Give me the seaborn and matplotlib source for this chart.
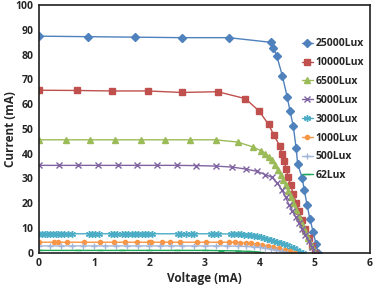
import matplotlib
matplotlib.use("Agg")
import matplotlib.pyplot as plt
import seaborn as sns

# I-V curves
v_25000 = [0, 0.88, 1.73, 2.59, 3.44, 4.21, 4.25, 4.31, 4.41, 4.50, 4.55, 4.61, 4.66,
           4.69, 4.77, 4.81, 4.86, 4.91, 4.97, 5.02, 5.06]
i_25000 = [87.4, 87.2, 87.0, 86.8, 86.8, 84.9, 82.6, 79.4, 71.5, 62.8, 57.2, 51.0, 42.3,
           35.7, 30.3, 25.2, 19.2, 13.8, 8.4, 3.7, 0.0]

v_10000 = [0, 0.68, 1.32, 1.97, 2.59, 3.24, 3.74, 3.99, 4.16, 4.26, 4.36, 4.40, 4.44,
           4.48, 4.52, 4.56, 4.61, 4.66, 4.71, 4.77, 4.83, 4.89, 4.95, 5.01]
i_10000 = [65.6, 65.5, 65.3, 65.3, 64.7, 65.0, 62.2, 57.2, 51.8, 47.4, 43.3, 40.0, 37.0,
           33.9, 30.6, 27.2, 23.8, 20.3, 16.8, 13.2, 9.6, 6.2, 2.9, 0.0]

v_6500 = [0, 0.48, 0.92, 1.38, 1.85, 2.29, 2.74, 3.20, 3.60, 3.88, 4.02, 4.10, 4.17,
          4.22, 4.28, 4.34, 4.38, 4.42, 4.47, 4.51, 4.56, 4.61, 4.66, 4.71, 4.76, 4.82,
          4.88, 4.94, 5.01]
i_6500 = [45.6, 45.6, 45.6, 45.6, 45.6, 45.6, 45.6, 45.6, 44.7, 42.7, 41.2, 40.0, 38.5,
          37.6, 35.3, 33.3, 31.3, 29.3, 27.2, 25.0, 22.6, 20.0, 17.3, 14.5, 11.6, 8.7,
          5.8, 2.9, 0.0]

v_5000 = [0, 0.36, 0.71, 1.07, 1.43, 1.78, 2.14, 2.50, 2.85, 3.21, 3.50, 3.75, 3.95,
          4.10, 4.22, 4.32, 4.40, 4.47, 4.53, 4.59, 4.65, 4.71, 4.77, 4.83, 4.89, 4.95, 5.00]
i_5000 = [35.3, 35.3, 35.3, 35.3, 35.3, 35.3, 35.3, 35.3, 35.2, 35.0, 34.6, 33.8, 32.9,
          31.6, 30.5, 28.2, 25.5, 22.4, 19.5, 17.0, 14.6, 12.2, 9.7, 7.2, 4.7, 2.2, 0.0]

v_3000 = [0.00, 0.05, 0.10, 0.15, 0.20, 0.25, 0.30, 0.35, 0.40, 0.45, 0.52, 0.60, 0.90,
          0.96, 1.02, 1.08, 1.30, 1.36, 1.42, 1.50, 1.56, 1.62, 1.68, 1.74, 1.80, 1.86,
          1.92, 1.98, 2.05, 2.52, 2.58, 2.66, 2.75, 2.81, 3.12, 3.18, 3.24, 3.48, 3.54,
          3.60, 3.66, 3.72, 3.78, 3.84, 3.90, 3.96, 4.02, 4.08, 4.14, 4.20, 4.26, 4.32,
          4.38, 4.44, 4.50, 4.56, 4.62, 4.68, 4.74, 4.78]
i_3000 = [7.7] * 37 + [7.6, 7.6, 7.5, 7.5, 7.4, 7.3, 7.1, 6.9, 6.7, 6.4, 6.1, 5.7, 5.3,
                       4.9, 4.5, 4.0, 3.5, 3.0, 2.4, 1.8, 1.1, 0.5, 0.0]

v_1000 = [0.00, 0.27, 0.34, 0.51, 0.81, 1.11, 1.35, 1.55, 1.78, 1.99, 2.02, 2.23, 2.38,
          2.56, 2.86, 3.02, 3.28, 3.45, 3.55, 3.65, 3.75, 3.85, 3.95, 4.05, 4.15, 4.25,
          4.35, 4.45, 4.55, 4.64]
i_1000 = [4.3] * 18 + [4.2, 4.1, 4.0, 3.8, 3.5, 3.2, 2.8, 2.3, 1.8, 1.2, 0.6, 0.0]

v_500 = [0.00, 0.20, 0.40, 0.60, 0.80, 1.00, 1.20, 1.40, 1.60, 1.80, 2.00, 2.20, 2.40,
         2.60, 2.80, 3.00, 3.20, 3.40, 3.60, 3.75, 3.90, 4.00, 4.10, 4.20, 4.30, 4.40, 4.50]
i_500 = [2.8] * 18 + [2.7, 2.6, 2.4, 2.2, 1.9, 1.5, 1.1, 0.6, 0.0]

v_62 = [0.00, 0.70, 1.10, 1.50, 2.00, 2.50, 3.00, 3.30, 3.60, 3.80, 3.95, 4.02]
i_62 = [1.0, 1.0, 1.0, 1.0, 1.0, 1.0, 1.0, 0.9, 0.8, 0.6, 0.4, 0.2]

series = [
    ("25000Lux", v_25000, i_25000, "D", "#4F81BD", 4.2),
    ("10000Lux", v_10000, i_10000, "s", "#C0504D", 4.5),
    ("6500Lux", v_6500, i_6500, "^", "#9BBB59", 5.0),
    ("5000Lux", v_5000, i_5000, "x", "#8064A2", 4.0),
    ("3000Lux", v_3000, i_3000, (6, 2, 0), "#4BACC6", 5.0),
    ("1000Lux", v_1000, i_1000, "o", "#F79646", 3.0),
    ("500Lux", v_500, i_500, "+", "#A3B5D9", 5.0),
    ("62Lux", v_62, i_62, "_", "#1FA85A", 5.0),
]

sns.set_style("white")
plt.rcParams['font.family'] = ['Open Sans', 'DejaVu Sans']

fig = plt.figure(figsize=(3.76, 2.90), dpi=100)
ax = fig.add_axes([0.104, 0.128, 0.880, 0.855])

for name, v, i, mk, col, ms in series:
    sns.lineplot(x=v, y=i, ax=ax, sort=False, color=col, marker=mk, markersize=ms,
                 markeredgecolor=col, markeredgewidth=1.0, linewidth=1.0, label=name)

ax.set_xlim(0, 6)
ax.set_ylim(0, 100)
ax.set_xticks(range(0, 7))
ax.set_yticks(range(0, 101, 10))
ax.tick_params(axis='both', labelsize=7.5, direction='out', length=2, width=1, pad=2)
for lab in ax.get_xticklabels() + ax.get_yticklabels():
    lab.set_fontweight('bold')
ax.set_xlabel('Voltage (mA)', fontsize=8.5, fontweight='bold', labelpad=2)
ax.set_ylabel('Current (mA)', fontsize=8.5, fontweight='bold')
ax.yaxis.set_label_coords(-0.066, 0.5)
for sp in ax.spines.values():
    sp.set_color('#202020')
    sp.set_linewidth(1.2)

leg = ax.legend(loc='upper right', bbox_to_anchor=(1.0, 0.89), frameon=False,
                prop={'weight': 'bold', 'size': 7.5}, handlelength=1.1, handletextpad=0.2,
                labelspacing=0.75, borderaxespad=0.2)

fig.savefig('out.png', dpi=100)
